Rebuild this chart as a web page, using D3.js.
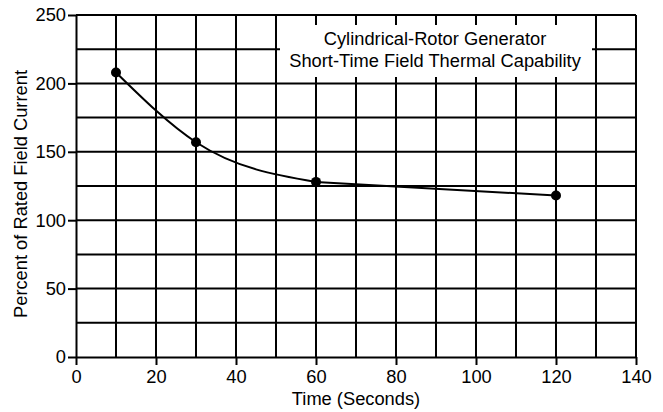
<!DOCTYPE html>
<html>
<head>
<meta charset="utf-8">
<script src="https://cdn.jsdelivr.net/npm/d3@7"></script>
<style>
  html, body { margin: 0; padding: 0; background: #fff; }
  svg { display: block; font-family: "Liberation Sans", Arial, sans-serif; }
</style>
</head>
<body>
<svg id="chart" width="663" height="412"></svg>
<script>
// ---- data ----
const timeSeconds = [10, 30, 60, 120];
const percentCurrent = [208, 157, 128, 118];
const xTickValues = [0, 20, 40, 60, 80, 100, 120, 140];
const yTickValues = [0, 50, 100, 150, 200, 250];
const xGridValues = [10, 20, 30, 40, 50, 60, 70, 80, 90, 100, 110, 120, 130, 140];
const yGridValues = [25, 50, 75, 100, 125, 150, 175, 200, 225, 250];
const titleLines = ["Cylindrical-Rotor Generator", "Short-Time Field Thermal Capability"];
const xTitle = "Time (Seconds)";
const yTitle = "Percent of Rated Field Current";

(function () {
// ---- layout ----
const svg = d3.select("#chart");
const mLeft = 76, mRight = 636, mTop = 15, mBottom = 357;
const x = d3.scaleLinear().domain([0, 140]).range([mLeft, mRight]);
const y = d3.scaleLinear().domain([0, 250]).range([mBottom, mTop]);
const fs = 18.3;

// grid
const grid = svg.append("g").attr("stroke", "#000").attr("stroke-width", 2);
grid.selectAll("line.v").data(xGridValues).join("line")
  .attr("x1", d => x(d)).attr("x2", d => x(d))
  .attr("y1", y(0)).attr("y2", y(250));
grid.selectAll("line.h").data(yGridValues).join("line")
  .attr("y1", d => y(d)).attr("y2", d => y(d))
  .attr("x1", x(0)).attr("x2", x(140));

// title box
svg.append("rect").attr("x", 280).attr("y", 25).attr("width", 312).attr("height", 52)
  .attr("fill", "#fff");
svg.append("text").attr("x", 435).attr("y", 45).attr("text-anchor", "middle")
  .attr("font-size", fs).attr("fill", "#000")
  .selectAll("tspan").data(titleLines).join("tspan")
  .attr("x", 435).attr("dy", (d, i) => i === 0 ? 0 : 21.5).text(d => d);

// axes
const xAxis = svg.append("g").attr("transform", `translate(0,${mBottom})`)
  .call(d3.axisBottom(x).tickValues(xTickValues).tickSize(8).tickSizeOuter(0).tickPadding(4));
const yAxis = svg.append("g").attr("transform", `translate(${mLeft},0)`)
  .call(d3.axisLeft(y).tickValues(yTickValues).tickSize(8).tickSizeOuter(0).tickPadding(2));
[xAxis, yAxis].forEach(g => {
  g.attr("font-size", fs).attr("font-family", null);
  g.select(".domain").attr("stroke", "#000").attr("stroke-width", 2);
  g.selectAll(".tick line").attr("stroke", "#000").attr("stroke-width", 2);
  g.selectAll(".tick text").attr("fill", "#000");
});
xAxis.selectAll(".tick text").attr("dy", "0.75em");

// axis titles
svg.append("text").attr("x", (mLeft + mRight) / 2).attr("y", 405)
  .attr("text-anchor", "middle").attr("font-size", fs).attr("fill", "#000").text(xTitle);
svg.append("text").attr("transform", `translate(27,${(mTop + mBottom) / 2 + 8}) rotate(-90)`)
  .attr("text-anchor", "middle").attr("font-size", fs).attr("fill", "#000").text(yTitle);

// curve: smooth through the first three points, straight to the last one
const pts = timeSeconds.map((t, i) => [t, percentCurrent[i]]);
const smooth = d3.line().x(d => x(d[0])).y(d => y(d[1])).curve(d3.curveMonotoneX);
const straight = d3.line().x(d => x(d[0])).y(d => y(d[1]));
svg.append("path").datum(pts.slice(0, 3)).attr("d", smooth)
  .attr("fill", "none").attr("stroke", "#000").attr("stroke-width", 2);
svg.append("path").datum(pts.slice(2)).attr("d", straight)
  .attr("fill", "none").attr("stroke", "#000").attr("stroke-width", 2);
svg.selectAll("circle.pt").data(pts).join("circle")
  .attr("cx", d => x(d[0])).attr("cy", d => y(d[1])).attr("r", 5).attr("fill", "#000");
})();
</script>
</body>
</html>
